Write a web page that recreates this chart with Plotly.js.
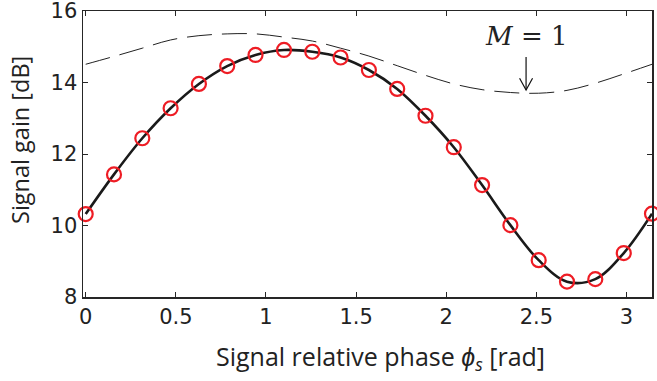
<!DOCTYPE html>
<html>
<head>
<meta charset="utf-8">
<script src="https://cdn.plot.ly/plotly-3.0.1.min.js"></script>
<style>html,body{margin:0;padding:0;background:#fff;}#chart{width:657px;height:381px;}</style>
</head>
<body>
<div id="chart"></div>
<script>
// Signal relative phase (rad), 21 samples from 0 to pi
const phase = [0, 0.157, 0.314, 0.471, 0.628, 0.785, 0.942, 1.100, 1.257, 1.414, 1.571,
               1.728, 1.885, 2.042, 2.199, 2.356, 2.513, 2.670, 2.827, 2.985, 3.1416];
// Simulated signal gain (markers) [dB]
const gainSim = [10.32, 11.43, 12.44, 13.28, 13.96, 14.46, 14.77, 14.91, 14.86, 14.70, 14.35,
                 13.82, 13.07, 12.19, 11.13, 10.01, 9.03, 8.43, 8.50, 9.23, 10.33];
// Theory signal gain (solid curve) [dB]
const gainTheory = gainSim;
// M = 1 reference (dashed curve) [dB]
const gainM1 = [14.51, 14.73, 14.96, 15.19, 15.31, 15.36, 15.36, 15.27, 15.16, 14.96, 14.74,
                14.47, 14.20, 13.96, 13.80, 13.72, 13.70, 13.78, 13.98, 14.24, 14.51];
const xTicks = [0, 0.5, 1, 1.5, 2, 2.5, 3];
const xTickText = ['0', '0.5', '1', '1.5', '2', '2.5', '3'];
const yTicks = [8, 10, 12, 14, 16];
const annX = 2.443, annY = 13.79, annTop = 14.71;

const traces = [
  {x: phase, y: gainM1, mode: 'lines', line: {color: '#222', width: 1, dash: '25px,10px', shape: 'spline'}, hoverinfo: 'skip'},
  {x: phase, y: gainTheory, mode: 'lines', line: {color: '#1a1a1a', width: 2.6, shape: 'spline', smoothing: 1}, hoverinfo: 'skip'},
  {x: phase, y: gainSim, mode: 'markers', cliponaxis: false,
   marker: {symbol: 'circle-open', size: 14, color: '#ee1c24', line: {width: 2.2, color: '#ee1c24'}}}
];

const axisCommon = {
  showgrid: false, zeroline: false, showline: true, linecolor: '#262626', linewidth: 1.5,
  mirror: 'ticks', ticks: 'inside', ticklen: 5, tickcolor: '#262626', tickwidth: 1,
  ticklabeloverflow: 'allow',
  tickfont: {family: 'DejaVu Sans, sans-serif', size: 21, color: '#222'}
};

const layout = {
  width: 657, height: 381,
  margin: {l: 83, r: 5, t: 11, b: 84},
  paper_bgcolor: '#fff', plot_bgcolor: '#fff',
  showlegend: false,
  xaxis: Object.assign({}, axisCommon, {
    range: [-0.015, 3.1416], tickvals: xTicks, ticktext: xTickText
  }),
  yaxis: Object.assign({}, axisCommon, {
    range: [8, 16], tickvals: yTicks
  }),
  annotations: [
    {x: 0.5237, y: -0.213, xref: 'paper', yref: 'paper', xanchor: 'center', yanchor: 'middle',
     text: 'Signal relative phase <i>ϕ<sub>s</sub></i> [rad]', showarrow: false,
     font: {family: 'Open Sans, sans-serif', size: 25, color: '#222'}},
    {x: -0.1107, y: 0.549, xref: 'paper', yref: 'paper', xanchor: 'center', yanchor: 'middle',
     text: 'Signal gain [dB]', textangle: -90, showarrow: false,
     font: {family: 'Open Sans, sans-serif', size: 23.5, color: '#222'}},
    {x: annX, y: 15.30, xref: 'x', yref: 'y', text: '<i>M</i> = 1', showarrow: false,
     font: {family: 'DejaVu Serif, serif', size: 26, color: '#222'}}
  ],
  shapes: [
    {type: 'line', xref: 'x', yref: 'y', x0: annX, x1: annX, y0: annTop, y1: annY, line: {color: '#111', width: 1.2}},
    {type: 'path', xref: 'x', yref: 'y',
     path: `M ${annX - 0.036} ${annY + 0.33} L ${annX} ${annY} L ${annX + 0.036} ${annY + 0.33}`,
     line: {color: '#111', width: 1.2}}
  ]
};

Plotly.newPlot('chart', traces, layout, {staticPlot: true, displayModeBar: false});
</script>
</body>
</html>
